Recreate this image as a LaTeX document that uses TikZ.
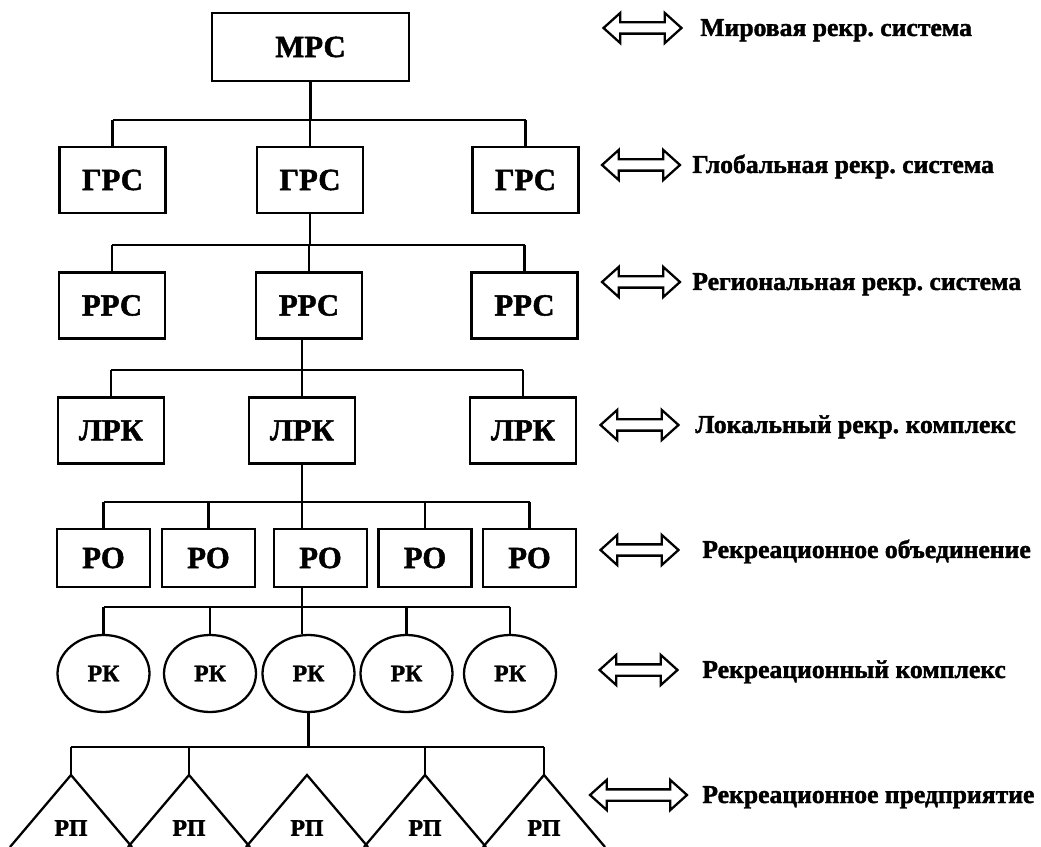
\documentclass[tikz,border=0pt]{standalone}
\usepackage{fontspec}
\setmainfont{Liberation Serif}
\newfontfamily\heavyfont{Liberation Serif}[BoldFeatures={FakeBold=1.6}]
\usetikzlibrary{shapes.geometric,shapes.arrows}

\begin{document}
\frenchspacing
\begin{tikzpicture}[x=0.02cm,y=-0.02cm,link/.style={line width=1.3pt},sysbox/.style={draw,line width=1.3pt,inner sep=0pt,minimum width=2.12cm,minimum height=1.32cm,font=\fontsize{17.5}{20}\heavyfont\bfseries\selectfont},topbox/.style={sysbox,minimum width=3.94cm,minimum height=1.36cm},unitbox/.style={sysbox,minimum width=1.86cm,minimum height=1.16cm},cplx/.style={draw,ellipse,line width=1.3pt,inner sep=0pt,minimum width=1.84cm,minimum height=1.54cm,font=\fontsize{13.5}{16}\heavyfont\bfseries\selectfont},firm/.style={inner sep=0pt,font=\fontsize{13.5}{16}\heavyfont\bfseries\selectfont},lvl/.style={anchor=base west,inner sep=0pt,yshift=-0.16cm,font=\fontsize{14.6}{18}\heavyfont\bfseries\selectfont},levelarrow/.style={draw,double arrow,line width=1.3pt,inner xsep=0pt,inner ysep=0.09cm,text height=0pt,text depth=0pt,double arrow head extend=0.19cm,double arrow tip angle=84,minimum height=1.56cm}]
\useasboundingbox (0,0) rectangle (1041,847);
% bus heights
\coordinate (b1) at (0,120); \coordinate (b2) at (0,245); \coordinate (b3) at (0,370);
\coordinate (b4) at (0,502); \coordinate (b5) at (0,607); \coordinate (b6) at (0,747);
% hierarchy
\node[topbox] (mrs) at (310.5,47) {МРС};
\node[sysbox] (grs1) at (112.5,180) {ГРС};
\node[sysbox] (grs2) at (310,180) {ГРС};
\node[sysbox] (grs3) at (525.5,180) {ГРС};
\node[sysbox] (rrs1) at (112,305.5) {РРС};
\node[sysbox] (rrs2) at (309,305.5) {РРС};
\node[sysbox] (rrs3) at (524.5,305.5) {РРС};
\node[sysbox] (lrk1) at (111,430.5) {ЛРК};
\node[sysbox] (lrk2) at (302,430.5) {ЛРК};
\node[sysbox] (lrk3) at (523,430.5) {ЛРК};
\node[unitbox] (ro1) at (103.5,558) {РО};
\node[unitbox] (ro2) at (208.5,558) {РО};
\node[unitbox] (ro3) at (320.5,558) {РО};
\node[unitbox] (ro4) at (425,558) {РО};
\node[unitbox] (ro5) at (529.5,558) {РО};
\node[cplx] (rk1) at (103.5,673.5) {РК};
\node[cplx] (rk2) at (210,673.5) {РК};
\node[cplx] (rk3) at (308.5,673.5) {РК};
\node[cplx] (rk4) at (406.5,673.5) {РК};
\node[cplx] (rk5) at (510,673.5) {РК};
\coordinate (t1) at (71,775); \coordinate (t2) at (189,775); \coordinate (t3) at (307,775);
\coordinate (t4) at (425,775); \coordinate (t5) at (544,775);
\node[firm] (rp1) at (t1 |- 0,828) {РП};
\node[firm] (rp2) at (t2 |- 0,828) {РП};
\node[firm] (rp3) at (t3 |- 0,828) {РП};
\node[firm] (rp4) at (t4 |- 0,828) {РП};
\node[firm] (rp5) at (t5 |- 0,828) {РП};
% tree lines
\draw[link] (mrs.south) -- (mrs.south |- b1); \draw[link] (grs1.north |- b1) -- (grs3.north |- b1);
\draw[link] (grs1.north) -- (grs1.north |- b1); \draw[link] (grs2.north) -- (grs2.north |- b1); \draw[link] (grs3.north) -- (grs3.north |- b1);
\draw[link] (grs2.south) -- (grs2.south |- b2); \draw[link] (rrs1.north |- b2) -- (rrs3.north |- b2);
\draw[link] (rrs1.north) -- (rrs1.north |- b2); \draw[link] (rrs2.north) -- (rrs2.north |- b2); \draw[link] (rrs3.north) -- (rrs3.north |- b2);
\draw[link] (rrs2.south -| lrk2.north) -- (lrk2.north); \draw[link] (lrk1.north |- b3) -- (lrk3.north |- b3);
\draw[link] (lrk1.north) -- (lrk1.north |- b3); \draw[link] (lrk3.north) -- (lrk3.north |- b3);
\draw[link] (lrk2.south) -- (lrk2.south |- ro3.north); \draw[link] (ro1.north |- b4) -- (ro5.north |- b4);
\draw[link] (ro1.north) -- (ro1.north |- b4); \draw[link] (ro2.north) -- (ro2.north |- b4); \draw[link] (ro4.north) -- (ro4.north |- b4); \draw[link] (ro5.north) -- (ro5.north |- b4);
\draw[link] (ro3.south -| lrk2.south) -- (rk3.north -| lrk2.south); \draw[link] (rk1.north |- b5) -- (rk5.north |- b5);
\draw[link] (rk1.north) -- (rk1.north |- b5); \draw[link] (rk2.north) -- (rk2.north |- b5); \draw[link] (rk4.north) -- (rk4.north |- b5); \draw[link] (rk5.north) -- (rk5.north |- b5);
\draw[link] (rk3.south) -- (rk3.south |- b6); \draw[link] (t1 |- b6) -- (t5 |- b6);
\draw[link] (t1) -- (t1 |- b6); \draw[link] (t2) -- (t2 |- b6); \draw[link] (t4) -- (t4 |- b6); \draw[link] (t5) -- (t5 |- b6);
% enterprises (cut by the lower edge)
\draw[link] ([shift={(-61,72)}]t1) -- (t1) -- ++(61,72); \draw[link] ([shift={(-61,72)}]t2) -- (t2) -- ++(61,72);
\draw[link] ([shift={(-61,72)}]t3) -- (t3) -- ++(61,72); \draw[link] ([shift={(-61,72)}]t4) -- (t4) -- ++(61,72);
\draw[link] ([shift={(-61,72)}]t5) -- (t5) -- ++(61,72);
% level names
\node[lvl] (lab1) at (700,28) {Мировая рекр. система};
\node[lvl] (lab2) at (692,165) {Глобальная рекр. система};
\node[lvl] (lab3) at (692,282) {Региональная рекр. система};
\node[lvl] (lab4) at (695,425) {Локальный рекр. комплекс};
\node[lvl] (lab5) at (702,550) {Рекреационное объединение};
\node[lvl] (lab6) at (702,670) {Рекреационный комплекс};
\node[lvl] (lab7) at (702,795) {Рекреационное предприятие};
\node[levelarrow] (arr1) at (642.5,28) {};
\node[levelarrow] (arr2) at (641,165) {};
\node[levelarrow] (arr3) at (641,282) {};
\node[levelarrow] (arr4) at (639.5,425) {};
\node[levelarrow] (arr5) at (639.5,550) {};
\node[levelarrow] (arr6) at (638.5,670) {};
\node[levelarrow,minimum height=1.94cm] (arr7) at (638.5,795) {};
\end{tikzpicture}
\end{document}
